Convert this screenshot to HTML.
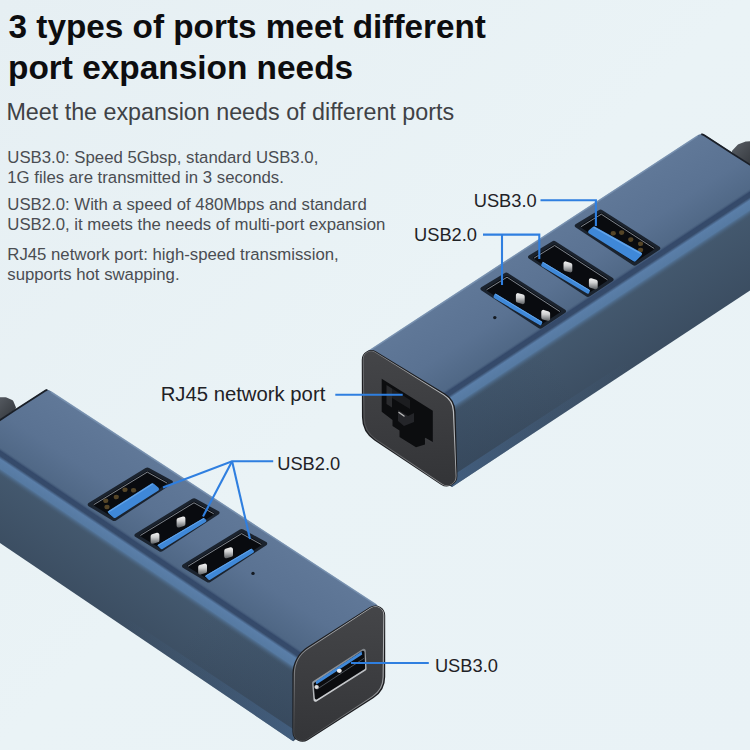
<!DOCTYPE html>
<html><head><meta charset="utf-8"><title>3 types of ports</title>
<style>
html,body{margin:0;padding:0;width:750px;height:750px;overflow:hidden;background:#e9f2f5}
body{position:relative;font-family:"Liberation Sans",sans-serif}
.t{position:absolute;white-space:nowrap;line-height:1}
.h1{font-weight:bold;color:#0d0d0f}
.sub{color:#3f4246}
.b{color:#4a4d52}
.lab{color:#1f2226}
</style></head><body>
<svg width="750" height="750" viewBox="0 0 750 750" style="position:absolute;left:0;top:0">
<defs>
<linearGradient id="bg" x1="0" y1="0" x2="1" y2="1"><stop offset="0" stop-color="#e6eff3"/><stop offset="0.5" stop-color="#eaf3f6"/><stop offset="1" stop-color="#e9f2f6"/></linearGradient>
<linearGradient id="pin" x1="0" y1="0" x2="0" y2="1"><stop offset="0" stop-color="#f2f2f2"/><stop offset="0.4" stop-color="#cfd0d1"/><stop offset="0.75" stop-color="#8b8e91"/><stop offset="1" stop-color="#5d6063"/></linearGradient>
<linearGradient id="top1" gradientUnits="userSpaceOnUse" x1="560" y1="226" x2="608" y2="300"><stop offset="0" stop-color="#607898"/><stop offset="0.5" stop-color="#5a7292"/><stop offset="0.85" stop-color="#506886"/><stop offset="1" stop-color="#4a6280"/></linearGradient>
<linearGradient id="side1" gradientUnits="userSpaceOnUse" x1="600" y1="304" x2="640" y2="366"><stop offset="0" stop-color="#44596f"/><stop offset="1" stop-color="#3b4d61"/></linearGradient>
<linearGradient id="ridge1" gradientUnits="userSpaceOnUse" x1="592.3" y1="292.5" x2="605.5" y2="312.5"><stop offset="0" stop-color="#4a6280" stop-opacity="0"/><stop offset="0.13" stop-color="#34496a"/><stop offset="0.30" stop-color="#364b6a"/><stop offset="0.42" stop-color="#5a7ea8"/><stop offset="0.74" stop-color="#567aa2"/><stop offset="1" stop-color="#44596f" stop-opacity="0"/></linearGradient>
<linearGradient id="top2" gradientUnits="userSpaceOnUse" x1="200" y1="490" x2="152" y2="564"><stop offset="0" stop-color="#607898"/><stop offset="0.5" stop-color="#5a7292"/><stop offset="0.85" stop-color="#506886"/><stop offset="1" stop-color="#4a6280"/></linearGradient>
<linearGradient id="side2" gradientUnits="userSpaceOnUse" x1="150" y1="565" x2="110" y2="625"><stop offset="0" stop-color="#44596f"/><stop offset="1" stop-color="#3b4d61"/></linearGradient>
<linearGradient id="ridge2" gradientUnits="userSpaceOnUse" x1="157.8" y1="553.3" x2="144.4" y2="573.2"><stop offset="0" stop-color="#4a6280" stop-opacity="0"/><stop offset="0.13" stop-color="#34496a"/><stop offset="0.30" stop-color="#364b6a"/><stop offset="0.42" stop-color="#5a7ea8"/><stop offset="0.74" stop-color="#567aa2"/><stop offset="1" stop-color="#44596f" stop-opacity="0"/></linearGradient>
<linearGradient id="ff1" gradientUnits="userSpaceOnUse" x1="400" y1="350" x2="410" y2="490"><stop offset="0" stop-color="#444548"/><stop offset="1" stop-color="#333437"/></linearGradient>
<linearGradient id="ff2" gradientUnits="userSpaceOnUse" x1="340" y1="610" x2="335" y2="750"><stop offset="0" stop-color="#444548"/><stop offset="1" stop-color="#333437"/></linearGradient>
<linearGradient id="side1s" gradientUnits="userSpaceOnUse" x1="452" y1="440" x2="560" y2="370"><stop offset="0" stop-color="#26364a" stop-opacity="0.22"/><stop offset="1" stop-color="#26364a" stop-opacity="0"/></linearGradient>
<linearGradient id="side2s" gradientUnits="userSpaceOnUse" x1="296" y1="705" x2="190" y2="632"><stop offset="0" stop-color="#26364a" stop-opacity="0.22"/><stop offset="1" stop-color="#26364a" stop-opacity="0"/></linearGradient>
<linearGradient id="brim1" gradientUnits="userSpaceOnUse" x1="452" y1="487" x2="750" y2="290"><stop offset="0" stop-color="#4a6c94" stop-opacity="0.6"/><stop offset="0.35" stop-color="#4a6c94" stop-opacity="0.2"/><stop offset="0.6" stop-color="#4a6c94" stop-opacity="0"/></linearGradient>
<linearGradient id="brim2" gradientUnits="userSpaceOnUse" x1="298" y1="745" x2="0" y2="543"><stop offset="0" stop-color="#4a6c94" stop-opacity="0.6"/><stop offset="0.35" stop-color="#4a6c94" stop-opacity="0.2"/><stop offset="0.6" stop-color="#4a6c94" stop-opacity="0"/></linearGradient>
<linearGradient id="rim1" gradientUnits="userSpaceOnUse" x1="365" y1="440" x2="455" y2="400"><stop offset="0" stop-color="#48494c"/><stop offset="0.5" stop-color="#8d8f92"/><stop offset="1" stop-color="#c2c4c6"/></linearGradient>
<linearGradient id="rim2" gradientUnits="userSpaceOnUse" x1="300" y1="740" x2="380" y2="610"><stop offset="0" stop-color="#48494c"/><stop offset="0.5" stop-color="#8d8f92"/><stop offset="1" stop-color="#c2c4c6"/></linearGradient>
<linearGradient id="urim" gradientUnits="userSpaceOnUse" x1="330" y1="660" x2="345" y2="690"><stop offset="0" stop-color="#6d7278"/><stop offset="1" stop-color="#d8dadd"/></linearGradient>
<linearGradient id="cab" x1="0" y1="0" x2="1" y2="1"><stop offset="0" stop-color="#5a5f66"/><stop offset="1" stop-color="#2e3237"/></linearGradient>
</defs>
<rect width="750" height="750" fill="url(#bg)"/>
<path d="M732.84,153.33 A2.00,2.00 0 0 1 732.55,150.34 L737.68,144.84 A2.00,2.00 0 0 1 738.44,144.34 L745.71,141.61 A2.00,2.00 0 0 1 746.31,141.48 L753.90,141.10 A2.00,2.00 0 0 1 756.00,143.10 L756.00,166.10 A2.00,2.00 0 0 1 752.83,167.72 Z" fill="url(#cab)"/>
<polygon points="440.0,410.4 760.0,198.0 760.0,284.0 452.0,487.0 440.0,480.0" fill="url(#side1)"/>
<polygon points="440.0,410.4 760.0,198.0 760.0,284.0 452.0,487.0 440.0,480.0" fill="url(#side1s)"/>
<polygon points="452.0,487.0 750.0,290.5 750.0,281.0 452.0,476.0" fill="url(#brim1)"/>
<path d="M366.50,351.90 L698.60,134.86 A5.50,5.50 0 0 1 704.60,134.85 L760.00,170.80 L760.00,198.00 L456.00,399.80 L440.00,410.40 L375.00,370.00 Z" fill="url(#top1)"/>
<path d="M701.3,134.1 Q702.9,134.3 704.6,135.4 L731.5,152.9 L760,171.2" fill="none" stroke="#1a1f27" stroke-width="1.8"/>
<polygon points="431.7,397.9 751.7,185.5 766.1,207.2 446.1,419.6" fill="url(#ridge1)"/>
<polyline points="368.0,351.6 697.5,136.2" fill="none" stroke="#7f99b6" stroke-width="1.6" opacity="0.7"/>
<path d="M361.76,359.70 A9.50,9.50 0 0 1 376.21,351.56 L445.02,393.58 A22.00,22.00 0 0 1 455.55,411.72 L457.40,475.53 A10.60,10.60 0 0 1 440.94,484.66 L374.45,440.48 A28.00,28.00 0 0 1 361.95,417.25 Z" fill="#1c1d20"/>
<path d="M362.73,359.50 A8.50,8.50 0 0 1 375.70,352.17 L444.17,394.49 A21.00,21.00 0 0 1 454.12,411.58 L456.47,475.82 A9.60,9.60 0 0 1 441.52,484.14 L375.31,439.65 A27.00,27.00 0 0 1 363.37,417.54 Z" fill="url(#rim1)"/>
<path d="M363.56,359.05 A7.50,7.50 0 0 1 375.03,352.56 L443.47,395.31 A20.00,20.00 0 0 1 452.86,411.41 L455.67,476.35 A8.60,8.60 0 0 1 442.25,483.84 L376.02,438.89 A26.00,26.00 0 0 1 364.62,417.84 Z" fill="url(#ff1)"/>
<polygon points="381.7,378.8 432.8,410.8 432.8,443.0 425.0,438.5 425.0,444.5 416.0,447.3 399.5,437.0 399.5,430.5 392.5,426.0 392.5,420.0 381.7,411.8" fill="#0c0d0f"/>
<polygon points="386.5,385.0 386.5,404.0 392.0,407.5 392.0,388.5" fill="#2a2b2e"/>
<polygon points="392.0,388.5 410.0,400.0 410.0,409.0 392.0,398.0" fill="#1c1d20"/>
<polygon points="398.0,410.0 408.0,416.0 414.0,413.0 414.0,422.0 404.0,426.0 398.0,421.0" fill="#242529"/>
<polyline points="399.0,412.5 404.0,416.0" fill="none" stroke="#bbbbbb" stroke-width="1.4" stroke-linecap="round"/>
<polyline points="425.0,438.5 432.8,443.0" fill="none" stroke="#3c3d40" stroke-width="1.5"/>
<path d="M481.17,290.27 A1.80,1.80 0 0 1 481.23,287.22 L504.43,273.13 A3.50,3.50 0 0 1 508.14,273.18 L565.27,309.81 A1.80,1.80 0 0 1 565.29,312.82 L542.23,328.03 A3.50,3.50 0 0 1 538.37,328.03 Z" fill="#1b232e"/>
<path d="M486.23,290.34 A1.10,1.10 0 0 1 486.25,288.49 L505.61,276.35 A2.20,2.20 0 0 1 507.98,276.37 L560.20,310.29 A1.10,1.10 0 0 1 560.21,312.13 L541.21,324.79 A2.20,2.20 0 0 1 538.78,324.80 Z" fill="#090b0f"/>
<polyline points="486.5,289.8 507.0,277.2 560.0,311.6" fill="none" stroke="#8b929b" stroke-width="0.9" stroke-linejoin="round"/>
<path d="M515.90,295.07 A2.00,2.00 0 0 1 518.47,293.15 L523.27,294.59 A2.00,2.00 0 0 1 524.70,296.51 L524.70,302.13 A2.00,2.00 0 0 1 522.13,304.05 L517.33,302.61 A2.00,2.00 0 0 1 515.90,300.69 Z" fill="url(#pin)"/>
<path d="M541.30,311.87 A2.00,2.00 0 0 1 543.87,309.95 L548.67,311.39 A2.00,2.00 0 0 1 550.10,313.31 L550.10,318.93 A2.00,2.00 0 0 1 547.53,320.85 L542.73,319.41 A2.00,2.00 0 0 1 541.30,317.49 Z" fill="url(#pin)"/>
<path d="M494.26,294.86 A1.50,1.50 0 0 1 496.43,294.12 L541.52,321.15 A1.50,1.50 0 0 1 542.15,322.97 L541.63,324.33 A1.50,1.50 0 0 1 539.47,325.09 L494.29,298.25 A1.50,1.50 0 0 1 493.66,296.42 Z" fill="#3f88d8"/>
<polyline points="495.2,294.0 542.0,322.2" fill="none" stroke="#62a4ea" stroke-width="1"/>
<path d="M528.77,258.57 A1.80,1.80 0 0 1 528.83,255.52 L552.03,241.43 A3.50,3.50 0 0 1 555.74,241.48 L612.87,278.11 A1.80,1.80 0 0 1 612.89,281.12 L589.83,296.33 A3.50,3.50 0 0 1 585.97,296.33 Z" fill="#1b232e"/>
<path d="M533.83,258.64 A1.10,1.10 0 0 1 533.85,256.79 L553.21,244.65 A2.20,2.20 0 0 1 555.58,244.67 L607.80,278.59 A1.10,1.10 0 0 1 607.81,280.43 L588.81,293.09 A2.20,2.20 0 0 1 586.38,293.10 Z" fill="#090b0f"/>
<polyline points="534.1,258.1 554.6,245.5 607.6,279.9" fill="none" stroke="#8b929b" stroke-width="0.9" stroke-linejoin="round"/>
<path d="M563.50,263.37 A2.00,2.00 0 0 1 566.07,261.45 L570.87,262.89 A2.00,2.00 0 0 1 572.30,264.81 L572.30,270.43 A2.00,2.00 0 0 1 569.73,272.35 L564.93,270.91 A2.00,2.00 0 0 1 563.50,268.99 Z" fill="url(#pin)"/>
<path d="M588.90,280.17 A2.00,2.00 0 0 1 591.47,278.25 L596.27,279.69 A2.00,2.00 0 0 1 597.70,281.61 L597.70,287.23 A2.00,2.00 0 0 1 595.13,289.15 L590.33,287.71 A2.00,2.00 0 0 1 588.90,285.79 Z" fill="url(#pin)"/>
<path d="M541.86,263.16 A1.50,1.50 0 0 1 544.03,262.42 L589.12,289.45 A1.50,1.50 0 0 1 589.75,291.27 L589.23,292.63 A1.50,1.50 0 0 1 587.07,293.39 L541.89,266.55 A1.50,1.50 0 0 1 541.26,264.72 Z" fill="#3f88d8"/>
<polyline points="542.8,262.3 589.6,290.5" fill="none" stroke="#62a4ea" stroke-width="1"/>
<path d="M575.47,227.27 A1.80,1.80 0 0 1 575.53,224.22 L598.73,210.13 A3.50,3.50 0 0 1 602.44,210.18 L659.57,246.81 A1.80,1.80 0 0 1 659.59,249.82 L636.53,265.03 A3.50,3.50 0 0 1 632.67,265.03 Z" fill="#1b232e"/>
<path d="M580.53,227.34 A1.10,1.10 0 0 1 580.55,225.49 L599.91,213.35 A2.20,2.20 0 0 1 602.28,213.37 L654.50,247.29 A1.10,1.10 0 0 1 654.51,249.13 L635.51,261.79 A2.20,2.20 0 0 1 633.08,261.80 Z" fill="#090b0f"/>
<polyline points="580.8,226.8 601.3,214.2 654.3,248.6" fill="none" stroke="#8b929b" stroke-width="0.9" stroke-linejoin="round"/>
<ellipse cx="613.3" cy="233.3" rx="2.6" ry="2.3" fill="#6f5930" opacity="0.75"/>
<ellipse cx="621.7" cy="232.6" rx="2.6" ry="2.3" fill="#6f5930" opacity="0.75"/>
<ellipse cx="630.8" cy="239.6" rx="2.6" ry="2.3" fill="#6f5930" opacity="0.75"/>
<ellipse cx="640.6" cy="243.8" rx="2.6" ry="2.3" fill="#6f5930" opacity="0.75"/>
<ellipse cx="640.6" cy="250.1" rx="2.6" ry="2.3" fill="#6f5930" opacity="0.75"/>
<path d="M589.10,233.45 A2.00,2.00 0 0 1 588.86,230.23 L592.74,226.91 A2.00,2.00 0 0 1 595.02,226.68 L640.84,252.33 A2.00,2.00 0 0 1 641.30,255.47 L635.93,261.03 A2.00,2.00 0 0 1 633.42,261.33 Z" fill="#3f88d8"/>
<polyline points="593.5,227.2 641.8,254.2" fill="none" stroke="#62a4ea" stroke-width="1.4"/>
<circle cx="494.8" cy="317.6" r="1.7" fill="#141a22"/>
<path d="M-6.00,399.86 A2.50,2.50 0 0 1 -3.54,397.36 L5.42,397.21 A2.50,2.50 0 0 1 6.53,397.45 L12.15,400.10 A2.50,2.50 0 0 1 13.37,401.37 L15.68,406.71 A2.50,2.50 0 0 1 14.80,409.76 L-2.09,421.32 A2.50,2.50 0 0 1 -6.00,419.26 Z" fill="url(#cab)"/>
<polygon points="-10.0,458.0 300.0,665.0 300.0,736.0 293.2,741.2 0.0,543.0 -10.0,536.2" fill="url(#side2)"/>
<polygon points="-10.0,458.0 300.0,665.0 300.0,736.0 293.2,741.2 0.0,543.0 -10.0,536.2" fill="url(#side2s)"/>
<polygon points="0.0,543.0 293.2,741.2 296.0,731.0 0.0,533.5" fill="url(#brim2)"/>
<path d="M-10.00,426.40 L44.08,390.69 A5.50,5.50 0 0 1 50.13,390.68 L377.00,604.80 L385.00,620.00 L300.00,665.00 L-10.00,458.00 Z" fill="url(#top2)"/>
<path d="M47.4,389.9 Q45.8,390.2 44,391.4 L14.5,410.6 L-10,426.8" fill="none" stroke="#1a1f27" stroke-width="1.8"/>
<polygon points="-1.7,445.5 308.3,652.5 293.9,674.1 -16.1,467.1" fill="url(#ridge2)"/>
<polyline points="51.0,392.0 375.5,604.4" fill="none" stroke="#7f99b6" stroke-width="1.6" opacity="0.7"/>
<path d="M369.82,607.11 A10.00,10.00 0 0 1 385.20,615.54 L385.20,676.92 A25.00,25.00 0 0 1 373.68,697.98 L307.79,740.15 A10.00,10.00 0 0 1 292.40,731.73 L292.40,674.04 A32.00,32.00 0 0 1 307.19,647.07 Z" fill="#1c1d20"/>
<path d="M370.37,607.70 A9.00,9.00 0 0 1 384.25,615.33 L383.79,677.11 A24.00,24.00 0 0 1 372.84,697.08 L307.24,739.56 A9.00,9.00 0 0 1 293.35,731.94 L293.78,673.79 A31.00,31.00 0 0 1 307.97,647.97 Z" fill="url(#rim2)"/>
<path d="M371.06,608.07 A8.00,8.00 0 0 1 383.43,614.88 L382.55,677.34 A23.00,23.00 0 0 1 372.15,696.26 L306.55,739.20 A8.00,8.00 0 0 1 294.17,732.39 L294.99,673.52 A30.00,30.00 0 0 1 308.60,648.81 Z" fill="url(#ff2)"/>
<path d="M362.67,649.10 A2.00,2.00 0 0 1 365.75,650.69 L366.55,668.64 A2.00,2.00 0 0 1 365.62,670.42 L316.58,701.44 A2.00,2.00 0 0 1 313.52,699.92 L312.10,683.19 A2.00,2.00 0 0 1 313.01,681.35 Z" fill="url(#urim)"/>
<path d="M362.18,651.07 A1.50,1.50 0 0 1 364.51,652.25 L365.16,667.93 A1.50,1.50 0 0 1 364.47,669.26 L317.10,699.27 A1.50,1.50 0 0 1 314.80,698.12 L313.67,684.08 A1.50,1.50 0 0 1 314.34,682.71 Z" fill="#0b0c0f"/>
<polygon points="361.6,651.6 362.2,654.6 316.4,684.4 315.6,681.4" fill="#3f88d8"/>
<polyline points="316.6,689.5 364.2,658.2" fill="none" stroke="#5d646d" stroke-width="0.8"/>
<ellipse cx="339.3" cy="670.8" rx="2.5" ry="2.1" fill="#ececec"/>
<ellipse cx="316.6" cy="687" rx="2.2" ry="2" fill="#dedede"/>
<path d="M88.54,506.13 A1.80,1.80 0 0 1 88.53,503.05 L145.57,468.06 A3.50,3.50 0 0 1 149.08,467.98 L171.98,480.56 A1.80,1.80 0 0 1 172.10,483.64 L116.14,520.39 A3.50,3.50 0 0 1 112.41,520.47 Z" fill="#1b232e"/>
<path d="M93.64,505.44 A1.10,1.10 0 0 1 93.64,503.56 L146.20,471.38 A2.20,2.20 0 0 1 148.43,471.33 L167.01,481.81 A1.10,1.10 0 0 1 167.07,483.69 L115.26,517.15 A2.20,2.20 0 0 1 112.92,517.18 Z" fill="#090b0f"/>
<polyline points="93.6,504.8 147.3,472.1 167.1,483.1" fill="none" stroke="#8b929b" stroke-width="0.9" stroke-linejoin="round"/>
<ellipse cx="107.0" cy="507.0" rx="2.6" ry="2.3" fill="#6f5930" opacity="0.75"/>
<ellipse cx="116.3" cy="497.0" rx="2.6" ry="2.3" fill="#6f5930" opacity="0.75"/>
<ellipse cx="125.0" cy="489.7" rx="2.6" ry="2.3" fill="#6f5930" opacity="0.75"/>
<ellipse cx="133.6" cy="490.3" rx="2.6" ry="2.3" fill="#6f5930" opacity="0.75"/>
<ellipse cx="105.8" cy="500.8" rx="2.6" ry="2.3" fill="#6f5930" opacity="0.75"/>
<path d="M108.92,513.66 A2.00,2.00 0 0 1 109.16,510.46 L151.44,483.50 A2.00,2.00 0 0 1 153.83,483.68 L158.28,487.54 A2.00,2.00 0 0 1 158.04,490.74 L115.76,517.70 A2.00,2.00 0 0 1 113.37,517.52 Z" fill="#3f88d8"/>
<polyline points="107.9,512.3 152.8,483.8" fill="none" stroke="#62a4ea" stroke-width="1.2"/>
<path d="M135.24,536.83 A1.80,1.80 0 0 1 135.23,533.75 L192.27,498.76 A3.50,3.50 0 0 1 195.78,498.68 L218.68,511.26 A1.80,1.80 0 0 1 218.80,514.34 L162.84,551.09 A3.50,3.50 0 0 1 159.11,551.17 Z" fill="#1b232e"/>
<path d="M140.34,536.14 A1.10,1.10 0 0 1 140.34,534.26 L192.90,502.08 A2.20,2.20 0 0 1 195.13,502.03 L213.71,512.51 A1.10,1.10 0 0 1 213.77,514.39 L161.96,547.85 A2.20,2.20 0 0 1 159.62,547.88 Z" fill="#090b0f"/>
<polyline points="140.3,535.5 194.0,502.8 213.8,513.8" fill="none" stroke="#8b929b" stroke-width="0.9" stroke-linejoin="round"/>
<path d="M150.60,536.21 A2.00,2.00 0 0 1 152.03,534.29 L156.83,532.85 A2.00,2.00 0 0 1 159.40,534.77 L159.40,540.39 A2.00,2.00 0 0 1 157.97,542.31 L153.17,543.75 A2.00,2.00 0 0 1 150.60,541.83 Z" fill="url(#pin)"/>
<path d="M176.60,519.91 A2.00,2.00 0 0 1 178.03,517.99 L182.83,516.55 A2.00,2.00 0 0 1 185.40,518.47 L185.40,524.09 A2.00,2.00 0 0 1 183.97,526.01 L179.17,527.45 A2.00,2.00 0 0 1 176.60,525.53 Z" fill="url(#pin)"/>
<path d="M158.40,546.57 A1.50,1.50 0 0 1 158.69,544.21 L202.97,518.21 A1.50,1.50 0 0 1 204.82,518.47 L205.95,519.67 A1.50,1.50 0 0 1 205.65,521.97 L162.50,548.97 A1.50,1.50 0 0 1 160.66,548.77 Z" fill="#3f88d8"/>
<polyline points="157.6,545.6 204.0,518.4" fill="none" stroke="#62a4ea" stroke-width="1"/>
<path d="M182.84,567.63 A1.80,1.80 0 0 1 182.83,564.55 L239.87,529.56 A3.50,3.50 0 0 1 243.38,529.48 L266.28,542.06 A1.80,1.80 0 0 1 266.40,545.14 L210.44,581.89 A3.50,3.50 0 0 1 206.71,581.97 Z" fill="#1b232e"/>
<path d="M187.94,566.94 A1.10,1.10 0 0 1 187.94,565.06 L240.50,532.88 A2.20,2.20 0 0 1 242.73,532.83 L261.31,543.31 A1.10,1.10 0 0 1 261.37,545.19 L209.56,578.65 A2.20,2.20 0 0 1 207.22,578.68 Z" fill="#090b0f"/>
<polyline points="187.9,566.3 241.6,533.6 261.4,544.6" fill="none" stroke="#8b929b" stroke-width="0.9" stroke-linejoin="round"/>
<path d="M198.20,567.01 A2.00,2.00 0 0 1 199.63,565.09 L204.43,563.65 A2.00,2.00 0 0 1 207.00,565.57 L207.00,571.19 A2.00,2.00 0 0 1 205.57,573.11 L200.77,574.55 A2.00,2.00 0 0 1 198.20,572.63 Z" fill="url(#pin)"/>
<path d="M224.20,550.71 A2.00,2.00 0 0 1 225.63,548.79 L230.43,547.35 A2.00,2.00 0 0 1 233.00,549.27 L233.00,554.89 A2.00,2.00 0 0 1 231.57,556.81 L226.77,558.25 A2.00,2.00 0 0 1 224.20,556.33 Z" fill="url(#pin)"/>
<path d="M206.00,577.37 A1.50,1.50 0 0 1 206.29,575.01 L250.57,549.01 A1.50,1.50 0 0 1 252.42,549.27 L253.55,550.47 A1.50,1.50 0 0 1 253.25,552.77 L210.10,579.77 A1.50,1.50 0 0 1 208.26,579.57 Z" fill="#3f88d8"/>
<polyline points="205.2,576.4 251.6,549.2" fill="none" stroke="#62a4ea" stroke-width="1"/>
<circle cx="253" cy="573.4" r="1.7" fill="#141a22"/>
<polyline points="540.5,200.3 595.9,200.3 595.9,226.0" fill="none" stroke="#2f7fe0" stroke-width="2.1" stroke-linecap="butt" stroke-linejoin="miter"/>
<polyline points="483.0,234.6 539.3,234.6 539.3,259.0" fill="none" stroke="#2f7fe0" stroke-width="2.1" stroke-linecap="butt" stroke-linejoin="miter"/>
<polyline points="502.0,234.6 502.0,285.0" fill="none" stroke="#2f7fe0" stroke-width="2.1" stroke-linecap="butt" stroke-linejoin="miter"/>
<polyline points="335.3,394.8 402.7,394.8" fill="none" stroke="#2f7fe0" stroke-width="2.1" stroke-linecap="butt" stroke-linejoin="miter"/>
<polyline points="273.2,461.2 232.1,461.2 163.0,487.6" fill="none" stroke="#2f7fe0" stroke-width="2.1" stroke-linecap="butt" stroke-linejoin="miter"/>
<polyline points="232.1,461.2 203.0,516.5" fill="none" stroke="#2f7fe0" stroke-width="2.1" stroke-linecap="butt" stroke-linejoin="miter"/>
<polyline points="232.1,461.2 250.0,539.0" fill="none" stroke="#2f7fe0" stroke-width="2.1" stroke-linecap="butt" stroke-linejoin="miter"/>
<polyline points="351.0,663.0 428.8,663.0" fill="none" stroke="#2f7fe0" stroke-width="2.1" stroke-linecap="butt" stroke-linejoin="miter"/>
</svg>
<div class="t h1" style="font-size:33.3px;left:8.6px;top:9.81px;">3 types of ports meet different</div>
<div class="t h1" style="font-size:33.4px;left:8.0px;top:50.73px;">port expansion needs</div>
<div class="t sub" style="font-size:23.3px;left:6.4px;top:101.28px;">Meet the expansion needs of different ports</div>
<div class="t b" style="font-size:16.75px;left:7.3px;top:149.52px;">USB3.0: Speed 5Gbsp, standard USB3.0,</div>
<div class="t b" style="font-size:16.75px;left:7.3px;top:170.32px;">1G files are transmitted in 3 seconds.</div>
<div class="t b" style="font-size:16.75px;left:7.3px;top:196.92px;">USB2.0: With a speed of 480Mbps and standard</div>
<div class="t b" style="font-size:16.75px;left:7.3px;top:216.92px;">USB2.0, it meets the needs of multi-port expansion</div>
<div class="t b" style="font-size:16.75px;left:7.3px;top:247.02px;">RJ45 network port: high-speed transmission,</div>
<div class="t b" style="font-size:16.75px;left:7.3px;top:267.42px;">supports hot swapping.</div>
<div class="t lab" style="font-size:18.3px;left:473.7px;top:191.51px;">USB3.0</div>
<div class="t lab" style="font-size:18.3px;left:414px;top:226.01px;">USB2.0</div>
<div class="t lab" style="font-size:20.3px;left:160.7px;top:383.82px;">RJ45 network port</div>
<div class="t lab" style="font-size:18.3px;left:277.2px;top:454.71px;">USB2.0</div>
<div class="t lab" style="font-size:18.3px;left:434.9px;top:656.91px;">USB3.0</div>
</body></html>
